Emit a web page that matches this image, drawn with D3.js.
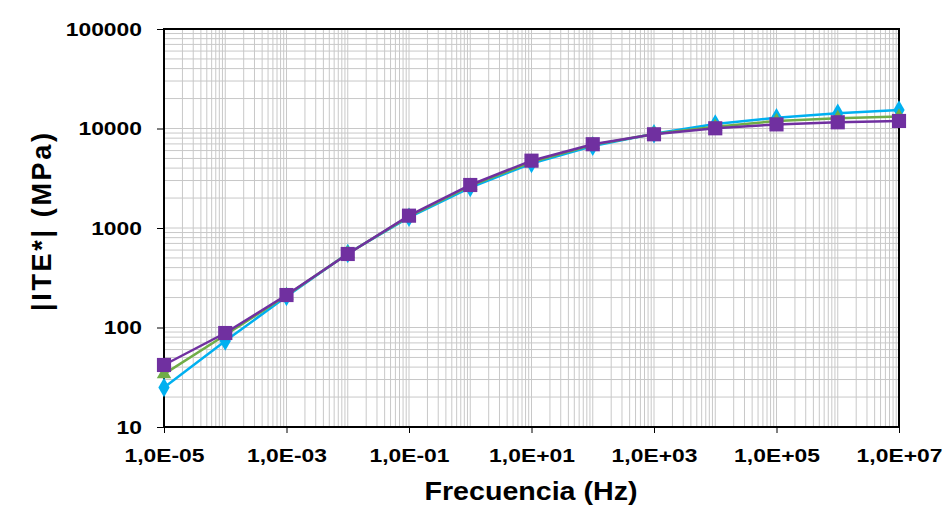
<!DOCTYPE html>
<html>
<head>
<meta charset="utf-8">
<script src="https://cdn.jsdelivr.net/npm/d3@7"></script>
<style>
  body { margin: 0; background: #fff; }
  text { font-family: "Liberation Sans", Arial, sans-serif; font-weight: bold; }
</style>
</head>
<body>
<svg></svg>
<script>
const [width, height] = [951, 519];
const margin = { left: 164, right: 52, top: 29, bottom: 92 };

// data
const freq = [1e-5, 1e-4, 1e-3, 1e-2, 1e-1, 1e0, 1e1, 1e2, 1e3, 1e4, 1e5, 1e6, 1e7];
const cyanVals = [25, 73, 205, 555, 1280, 2550, 4450, 6650, 8850, 11100, 12800, 14200, 15300];
const greenVals = [34, 84, 210, 552, 1310, 2650, 4600, 6850, 8800, 10400, 11900, 12700, 13200];
const purpleVals = [42, 88, 212, 548, 1330, 2705, 4750, 6950, 8750, 10050, 11000, 11550, 11900];
const xTickVals = [1e-5, 1e-3, 1e-1, 1e1, 1e3, 1e5, 1e7];
const xTickLabels = ['1,0E-05', '1,0E-03', '1,0E-01', '1,0E+01', '1,0E+03', '1,0E+05', '1,0E+07'];
const yTickVals = [10, 100, 1000, 10000, 100000];
const yTickLabels = ['10', '100', '1000', '10000', '100000'];

const series = [
  { vals: cyanVals, color: '#00b0f0', shape: d3.symbolDiamond, size: 110 },
  { vals: greenVals, color: '#70ad47', shape: d3.symbolTriangle, size: 90 },
  { vals: purpleVals, color: '#7030a0', shape: d3.symbolSquare, size: 200 },
];

const svg = d3.select('svg').attr('width', width).attr('height', height);
const iw = width - margin.left - margin.right;
const ih = height - margin.top - margin.bottom;
const g = svg.append('g').attr('transform', `translate(${margin.left},${margin.top})`);

const x = d3.scaleLog().domain([1e-5, 1e7]).range([0, iw]);
const y = d3.scaleLog().domain([10, 100000]).range([ih, 0]);

// grid: every 1..9 of each decade
const xGrid = [];
for (let e = -5; e < 7; e++) for (let m = 1; m < 10; m++) xGrid.push(m * Math.pow(10, e));
xGrid.push(1e7);
const yGrid = [];
for (let e = 1; e < 5; e++) for (let m = 1; m < 10; m++) yGrid.push(m * Math.pow(10, e));
yGrid.push(1e5);

g.append('g').selectAll('line').data(xGrid).join('line')
  .attr('x1', d => x(d)).attr('x2', d => x(d)).attr('y1', 0).attr('y2', ih)
  .attr('stroke', '#c8c8c8').attr('stroke-width', 1);
g.append('g').selectAll('line').data(yGrid).join('line')
  .attr('y1', d => y(d)).attr('y2', d => y(d)).attr('x1', 0).attr('x2', iw)
  .attr('stroke', '#c8c8c8').attr('stroke-width', 1);

// axes
const xAxis = g.append('g').attr('transform', `translate(0,${ih})`)
  .call(d3.axisBottom(x).tickValues(xTickVals).tickFormat((d, i) => xTickLabels[i]).tickSize(6).tickPadding(16));
const yAxis = g.append('g')
  .call(d3.axisLeft(y).tickValues(yTickVals).tickFormat((d, i) => yTickLabels[i]).tickSize(7).tickPadding(15));
[xAxis, yAxis].forEach(a => {
  a.select('.domain').remove();
  a.selectAll('line').attr('stroke', '#000');
  a.selectAll('text').attr('font-size', 18).attr('fill', '#000')
    .style('font-family', '"Liberation Sans", Arial, sans-serif').style('font-weight', 'bold');
  // the reference lettering is wider than plain Arial bold
  a.selectAll('text').each(function () {
    const w = this.getComputedTextLength();
    d3.select(this).attr('textLength', w * 1.27).attr('lengthAdjust', 'spacingAndGlyphs');
  });
});
yAxis.selectAll('text').attr('dy', '0.35em');

// frame
g.append('rect').attr('width', iw).attr('height', ih)
  .attr('fill', 'none').attr('stroke', '#000').attr('stroke-width', 2);

// series
const line = d3.line().x((d, i) => x(freq[i])).y(d => y(d));
series.forEach(s => {
  g.append('path').datum(s.vals).attr('d', line)
    .attr('fill', 'none').attr('stroke', s.color).attr('stroke-width', 2.5);
  g.append('g').selectAll('path').data(s.vals).join('path')
    .attr('transform', (d, i) => `translate(${x(freq[i])},${y(d)})`)
    .attr('d', d3.symbol().type(s.shape).size(s.size))
    .attr('fill', s.color);
});

// titles
svg.append('text').attr('x', 531).attr('y', 500)
  .attr('text-anchor', 'middle').attr('font-size', 25)
  .attr('textLength', 213).attr('lengthAdjust', 'spacingAndGlyphs')
  .text('Frecuencia (Hz)');
svg.append('text').attr('transform', `translate(51,222) rotate(-90)`)
  .attr('text-anchor', 'middle').attr('font-size', 27)
  .attr('textLength', 178).attr('lengthAdjust', 'spacing')
  .text('|ITE*| (MPa)');
</script>
</body>
</html>
